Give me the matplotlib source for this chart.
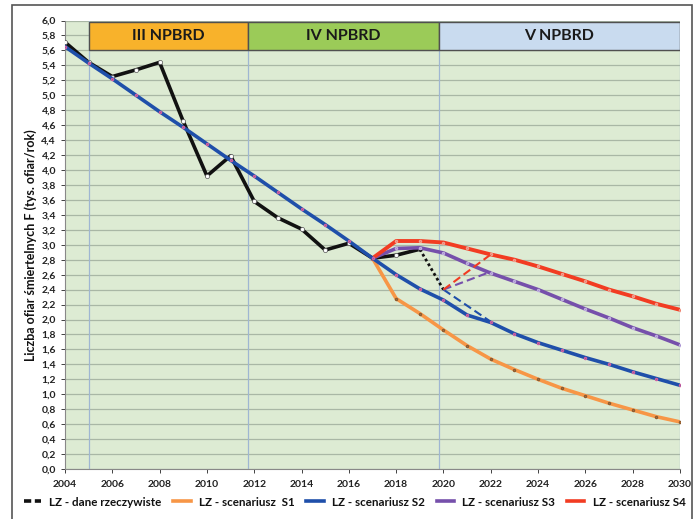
import numpy as np
import matplotlib.pyplot as plt
from matplotlib.lines import Line2D
from matplotlib.patches import Rectangle

plt.rcParams['font.family'] = ['Lato', 'DejaVu Sans']

# real data (black)
years_real = list(range(2004, 2020))
real = [5.71, 5.44, 5.25, 5.34, 5.44, 4.65, 3.92, 4.19, 3.58, 3.36, 3.21, 2.93, 3.02, 2.82, 2.86, 2.94]
years_real_dot = [2019, 2020]
real_dot = [2.94, 2.40]

# S2 trend (blue) 2004-2030
years_s2 = list(range(2004, 2031))
s2 = [5.65, 5.43, 5.22, 5.00, 4.78, 4.57, 4.35, 4.13, 3.92, 3.70, 3.48, 3.27, 3.05, 2.82,
      2.60, 2.41, 2.26, 2.06, 1.96, 1.81, 1.69, 1.59, 1.49, 1.40, 1.30, 1.21, 1.12]

# scenarios 2017-2030
years_sc = list(range(2017, 2031))
s1 = [2.82, 2.28, 2.08, 1.86, 1.65, 1.47, 1.33, 1.20, 1.08, 0.98, 0.88, 0.79, 0.70, 0.63]
s3 = [2.82, 2.95, 2.96, 2.89, 2.75, 2.62, 2.51, 2.40, 2.27, 2.14, 2.02, 1.89, 1.78, 1.66]
s4 = [2.82, 3.05, 3.05, 3.03, 2.95, 2.87, 2.80, 2.71, 2.61, 2.51, 2.40, 2.31, 2.21, 2.13]

# dashed shortcuts from 2020
years_dash = [2020, 2022]
s2_dash = [2.40, 1.97]
s3_dash = [2.40, 2.64]
s4_dash = [2.40, 2.87]

periods = ['III NPBRD', 'IV NPBRD', 'V NPBRD']
period_edges = [2005, 2011.75, 2019.8, 2030]
period_colors = ['#f8b22b', '#9bcb58', '#c9dbef']

c_black = '#111111'
c_orange = '#f79646'
c_blue = '#1f4faa'
c_purple = '#7650ab'
c_red = '#f23c22'

fig = plt.figure(figsize=(6.98, 5.19), dpi=100)
ax = fig.add_axes([65/698, 1-469/519, 615/698, 448.5/519])
ax.set_facecolor('#ddebd3')

# outer frame
fig.patches.append(Rectangle((12/698, -0.05), 680/698, 1.05-5/519, transform=fig.transFigure,
                             fill=False, edgecolor='#555555', lw=1.2))

yt = np.arange(0, 6.01, 0.2)
for y in yt:
    ax.axhline(y, color='#a9b7a5', lw=0.9, zorder=1)
for x in period_edges[:3]:
    ax.axvline(x, color='#9fb6d2', lw=0.9, zorder=1)
ax.axvline(2030, color='#9fb6d2', lw=0.9, zorder=1)

# header boxes
for i, name in enumerate(periods):
    x0, x1 = period_edges[i], period_edges[i+1]
    ax.add_patch(Rectangle((x0, 5.61), x1-x0, 0.37, facecolor=period_colors[i],
                           edgecolor='#505050', lw=1.0, zorder=5))
    ax.text((x0+x1)/2, 5.795, name, ha='center', va='center', fontsize=11.5,
            fontweight='bold', color='#1a1a1a', zorder=6)

ax.plot(years_real, real, color=c_black, lw=2.6, marker='o', ms=3, mfc='white',
        mec='#555555', mew=0.5, zorder=3)
ax.plot(years_real_dot, real_dot, color=c_black, lw=2, ls=(0, (1, 1)), zorder=3)

ax.plot(years_sc, s1, color=c_orange, lw=2.6, marker='o', ms=1.5, mec='#8a5a30', zorder=3)
ax.plot(years_sc, s3, color=c_purple, lw=2.6, marker='o', ms=1.5, mec='#c0b0e0', zorder=3)
ax.plot(years_sc, s4, color=c_red, lw=2.8, marker='o', ms=1.5, mec='#f0a090', zorder=3)
ax.plot(years_s2, s2, color=c_blue, lw=2.6, marker='o', ms=1.5, mec='#d060a0', zorder=4)

ax.plot(years_dash, s2_dash, color=c_blue, lw=1.5, ls=(0, (4, 2)), zorder=3)
ax.plot(years_dash, s3_dash, color=c_purple, lw=1.5, ls=(0, (4, 2)), zorder=3)
ax.plot(years_dash, s4_dash, color=c_red, lw=1.5, ls=(0, (4, 2)), zorder=3)

ax.set_xlim(2004, 2030)
ax.set_ylim(0, 6.0)
ax.set_xticks(range(2004, 2031, 2))
ax.set_yticks(yt)
ax.set_yticklabels([f'{v:.1f}'.replace('.', ',') for v in yt])
ax.tick_params(labelsize=7.5, colors='#222222', length=3, width=0.6)
ax.tick_params(axis='x', pad=5)
for lbl in ax.get_xticklabels() + ax.get_yticklabels():
    lbl.set_fontweight('bold')
for s in ['top', 'right']:
    ax.spines[s].set_visible(False)
for s in ['left', 'bottom']:
    ax.spines[s].set_color('#888888')
    ax.spines[s].set_linewidth(0.8)

ax.set_ylabel('Liczba ofiar śmiertelnych F (tys. ofiar/rok)', fontsize=9,
              fontweight='bold', color='#111111', labelpad=3)

handles = [
    Line2D([], [], color=c_black, lw=2.6, ls=(0, (2, 1))),
    Line2D([], [], color=c_orange, lw=2.6),
    Line2D([], [], color=c_blue, lw=2.6),
    Line2D([], [], color=c_purple, lw=2.6),
    Line2D([], [], color=c_red, lw=2.6),
]
labels = ['LZ - dane rzeczywiste', 'LZ - scenariusz  S1', 'LZ - scenariusz S2',
          'LZ - scenariusz S3', 'LZ - scenariusz S4']
leg = fig.legend(handles, labels, loc='center', bbox_to_anchor=(0.508, 1-502/519), ncol=5,
                 frameon=False, fontsize=8.4, handlelength=1.5, columnspacing=1.0,
                 handletextpad=0.7, borderaxespad=0)
for t in leg.get_texts():
    t.set_fontweight('bold')
    t.set_color('#111111')

fig.savefig('out.png', dpi=100)
